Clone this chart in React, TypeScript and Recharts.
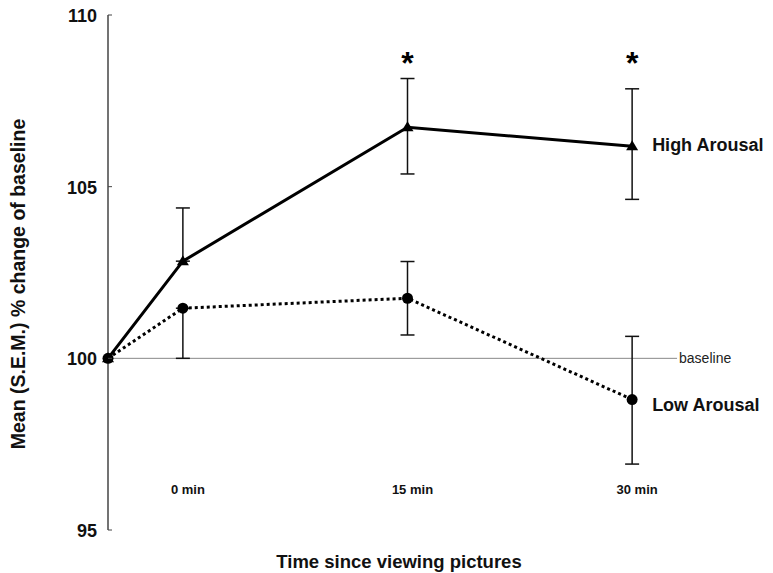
import React from 'react';
import {
  ComposedChart,
  Line,
  XAxis,
  YAxis,
  ErrorBar,
  ReferenceLine,
  LabelList,
} from 'recharts';

// time points (minutes); -5 stands for the pre-viewing baseline
const times = [-5, 0, 15, 30];
const highArousal = [100, 102.83, 106.73, 106.18];
// [below, above] S.E.M.
const highErr = [null, [0, 1.55], [1.36, 1.42], [1.55, 1.67]];
const lowArousal = [100, 101.46, 101.75, 98.8];
const lowErr = [null, [1.46, 0], [1.07, 1.07], [1.88, 1.84]];
const stars = [null, null, 108.8, 108.8];
const timeTicks = [0, 15, 30];
const valueTicks = [95, 100, 105, 110];

const data = times.map((t, i) => ({
  t,
  high: highArousal[i],
  highErr: highErr[i],
  low: lowArousal[i],
  lowErr: lowErr[i],
  star: stars[i],
}));

const FONT = '"Liberation Sans", Arial, sans-serif';

const YTick = (props: any) => {
  const { x, y, payload } = props;
  return (
    <g>
      <line x1={x} x2={x + 4} y1={y} y2={y} stroke="#444" strokeWidth={1} />
      <text x={x - 11} y={y} dy={7} textAnchor="end" fontFamily={FONT} fontWeight="bold" fontSize={18} fill="#111">
        {payload.value}
      </text>
    </g>
  );
};

const XTick = (props: any) => {
  const { x, payload } = props;
  return (
    <text x={x + 5} y={494} textAnchor="middle" fontFamily={FONT} fontWeight="bold" fontSize={13} fill="#111">
      {payload.value} min
    </text>
  );
};

const Triangle = (props: any) => {
  const { cx, cy } = props;
  if (cx == null || cy == null) return <g />;
  return <polygon points={`${cx - 6},${cy + 4} ${cx + 6},${cy + 4} ${cx},${cy - 6}`} fill="#000" />;
};

const Circle = (props: any) => {
  const { cx, cy } = props;
  if (cx == null || cy == null) return <g />;
  return <circle cx={cx} cy={cy} r={5.5} fill="#000" />;
};

const Star = (props: any) => {
  const { cx, cy, value } = props;
  if (cx == null || cy == null || value == null) return <g />;
  return (
    <text x={cx} y={cy + 18} textAnchor="middle" fontFamily={FONT} fontWeight="bold" fontSize={32} fill="#000">
      *
    </text>
  );
};

const seriesLabel = (name: string, dy: number) => (props: any) => {
  const { x, y, index } = props;
  if (index !== times.length - 1) return null;
  return (
    <text x={x + 20} y={y + dy} fontFamily={FONT} fontWeight="bold" fontSize={18} fill="#111">
      {name}
    </text>
  );
};

export default function App() {
  return (
    <div style={{ position: 'absolute', left: 0, top: 0, background: '#fff' }}>
      <ComposedChart width={773} height={573} data={data} margin={{ top: 15, right: 66, bottom: 0, left: 0 }}>
        <XAxis
          dataKey="t"
          type="number"
          domain={[-5, 35]}
          ticks={timeTicks}
          axisLine={false}
          tickLine={false}
          height={43}
          tick={<XTick />}
          label={{
            content: () => (
              <text x={399} y={568} textAnchor="middle" fontFamily={FONT} fontWeight="bold" fontSize={18.5} fill="#111">
                Time since viewing pictures
              </text>
            ),
          }}
        />
        <YAxis
          type="number"
          domain={[95, 110]}
          ticks={valueTicks}
          width={108}
          axisLine={{ stroke: '#444', strokeWidth: 1.5 }}
          tickLine={false}
          tickSize={0}
          tickMargin={0}
          tick={<YTick />}
          label={{
            content: () => (
              <text
                x={25}
                y={284}
                transform="rotate(-90 25 284)"
                textAnchor="middle"
                fontFamily={FONT}
                fontWeight="bold"
                fontSize={19.5}
                fill="#111"
              >
                Mean (S.E.M.) % change of baseline
              </text>
            ),
          }}
        />
        <ReferenceLine
          segment={[
            { x: -5, y: 100 },
            { x: 33, y: 100 },
          ]}
          stroke="#888"
          strokeWidth={1}
          label={{
            content: (p: any) => {
              const vb = p.viewBox || {};
              return (
                <text x={(vb.x || 0) + (vb.width || 0) + 2} y={(vb.y || 0) + 5} fontFamily={FONT} fontSize={14} fill="#222">
                  baseline
                </text>
              );
            },
          }}
        />
        <Line
          dataKey="low"
          stroke="#000"
          strokeWidth={3}
          strokeDasharray="3 3"
          dot={<Circle />}
          activeDot={false}
          isAnimationActive={false}
        >
          <ErrorBar dataKey="lowErr" width={7} stroke="#111" strokeWidth={1.5} />
          <LabelList dataKey="low" content={seriesLabel('Low Arousal', 11)} />
        </Line>
        <Line
          dataKey="high"
          stroke="#000"
          strokeWidth={3}
          dot={<Triangle />}
          activeDot={false}
          isAnimationActive={false}
        >
          <ErrorBar dataKey="highErr" width={7} stroke="#111" strokeWidth={1.5} />
          <LabelList dataKey="high" content={seriesLabel('High Arousal', 5)} />
        </Line>
        <Line dataKey="star" stroke="none" dot={<Star />} activeDot={false} isAnimationActive={false} />
      </ComposedChart>
    </div>
  );
}
